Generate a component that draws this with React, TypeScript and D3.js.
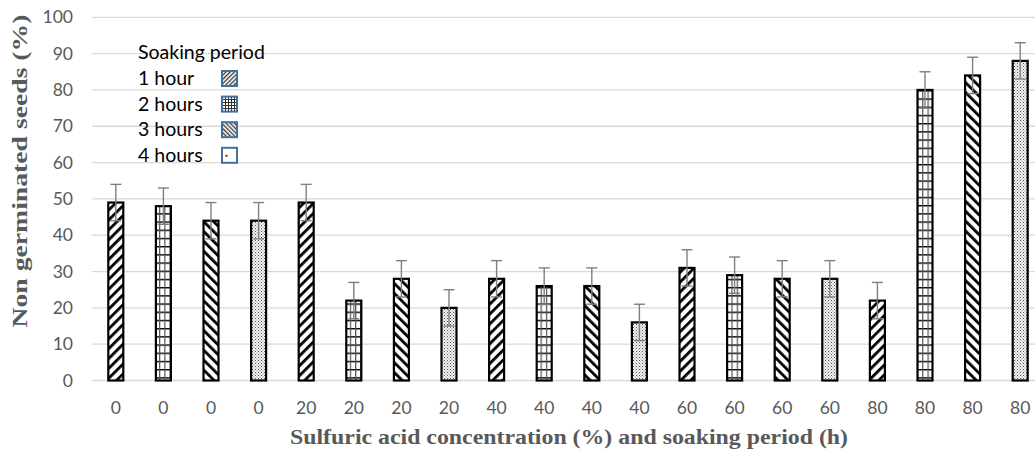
import * as d3 from "d3";

const concentrations = [0, 0, 0, 0, 20, 20, 20, 20, 40, 40, 40, 40, 60, 60, 60, 60, 80, 80, 80, 80];
const periods = [1, 2, 3, 4, 1, 2, 3, 4, 1, 2, 3, 4, 1, 2, 3, 4, 1, 2, 3, 4];
const nonGerminated = [49, 48, 44, 44, 49, 22, 28, 20, 28, 26, 26, 16, 31, 29, 28, 28, 22, 80, 84, 88];
const errors = [5, 5, 5, 5, 5, 5, 5, 5, 5, 5, 5, 5, 5, 5, 5, 5, 5, 5, 5, 5];
const legendLabels = ["1 hour", "2 hours", "3 hours", "4 hours"];
const yTicks = [0, 10, 20, 30, 40, 50, 60, 70, 80, 90, 100];

const width = 1035;
const height = 453;
const gray = "#595959";

export default function App() {
  const x = d3
    .scaleBand<number>()
    .domain(d3.range(nonGerminated.length))
    .range([92, 1044]);
  const y = d3.scaleLinear().domain([0, 100]).range([380.5, 17.3]);
  const barW = 15;

  return (
    <svg
      width={width}
      height={height}
      style={{ position: "absolute", left: 0, top: 0, background: "#fff" }}
    >
      <defs>
        {/* bar patterns */}
        <pattern id="p1" width="7" height="7" patternUnits="userSpaceOnUse" patternTransform="rotate(45)">
          <rect width="7" height="7" fill="#fff" />
          <rect width="2.8" height="7" fill="#000" />
        </pattern>
        <pattern id="p2" width="5.3" height="8.2" patternUnits="userSpaceOnUse">
          <rect width="5.3" height="8.2" fill="#fff" />
          <line x1="0" x2="5.3" y1="0.7" y2="0.7" stroke="#000" strokeWidth="1.4" />
          <line x1="0.6" x2="0.6" y1="0" y2="8.2" stroke="#555" strokeWidth="1.2" />
        </pattern>
        <pattern id="p3" width="7" height="7" patternUnits="userSpaceOnUse" patternTransform="rotate(-45)">
          <rect width="7" height="7" fill="#fff" />
          <rect width="2.8" height="7" fill="#000" />
        </pattern>
        <pattern id="p4" width="3" height="3" patternUnits="userSpaceOnUse">
          <rect width="3" height="3" fill="#f2f2f2" />
          <rect x="0" y="0" width="1" height="1" fill="#555" />
          <rect x="1.5" y="1.5" width="1" height="1" fill="#888" />
        </pattern>
        {/* legend swatch patterns */}
        <pattern id="l1" width="3" height="3" patternUnits="userSpaceOnUse" patternTransform="rotate(45)">
          <rect width="3" height="3" fill="#fff" />
          <rect width="1.3" height="3" fill="#333" />
        </pattern>
        <pattern id="l2" width="3" height="3" patternUnits="userSpaceOnUse">
          <rect width="3" height="3" fill="#fff" />
          <rect width="3" height="1" fill="#333" />
          <rect width="1" height="3" fill="#333" />
        </pattern>
        <pattern id="l3" width="3" height="3" patternUnits="userSpaceOnUse" patternTransform="rotate(-45)">
          <rect width="3" height="3" fill="#fff" />
          <rect width="1.3" height="3" fill="#333" />
        </pattern>
      </defs>

      {/* gridlines */}
      {yTicks.map((t) => (
        <line key={t} x1={92} x2={width} y1={y(t)} y2={y(t)} stroke="#d9d9d9" strokeWidth={1.3} />
      ))}

      {/* y tick labels */}
      {yTicks.map((t) => (
        <text
          key={"yl" + t}
          x={73}
          y={y(t) + 6}
          textAnchor="end"
          fontFamily="Lato, 'Noto Sans', sans-serif"
          fontSize={17.5}
          fill={gray}
        >
          {t}
        </text>
      ))}

      {/* bars */}
      {nonGerminated.map((v, i) => {
        const cx = x(i)! + x.bandwidth() / 2;
        return (
          <rect
            key={"b" + i}
            x={cx - barW / 2}
            y={y(v)}
            width={barW}
            height={y(0) - y(v)}
            fill={`url(#p${periods[i]})`}
            stroke="#000"
            strokeWidth={2.2}
          />
        );
      })}

      {/* error bars */}
      {nonGerminated.map((v, i) => {
        const cx = x(i)! + x.bandwidth() / 2;
        const top = y(v + errors[i]);
        const bot = y(v - errors[i]);
        return (
          <g key={"e" + i} stroke="#7f7f7f" strokeWidth={1.4}>
            <line x1={cx} x2={cx} y1={top} y2={bot} />
            <line x1={cx - 5.5} x2={cx + 5.5} y1={top} y2={top} />
            <line x1={cx - 5.5} x2={cx + 5.5} y1={bot} y2={bot} />
          </g>
        );
      })}

      {/* x tick labels */}
      {concentrations.map((c, i) => (
        <text
          key={"xl" + i}
          x={x(i)! + x.bandwidth() / 2}
          y={414}
          textAnchor="middle"
          fontFamily="Lato, 'Noto Sans', sans-serif"
          fontSize={17.5}
          fill={gray}
        >
          {c}
        </text>
      ))}

      {/* legend */}
      <g fontFamily="Lato, 'Noto Sans', sans-serif" fontSize={19.5} fill="#000">
        <text x={138} y={59}>Soaking period</text>
        {legendLabels.map((l, k) => (
          <g key={l}>
            <text x={138} y={85 + k * 25.6}>{l}</text>
            <rect
              x={222}
              y={71 + k * 25.6}
              width={15}
              height={15}
              fill={k < 3 ? `url(#l${k + 1})` : "#fff"}
              stroke="#41719c"
              strokeWidth={2}
            />
            {k === 3 && <rect x={225.5} y={78 + k * 25.6} width={2} height={2} fill="#333" />}
          </g>
        ))}
      </g>

      {/* axis titles */}
      <text
        transform="translate(27,171) rotate(-90)"
        textAnchor="middle"
        fontFamily="'Liberation Serif', 'Times New Roman', serif"
        fontWeight="bold"
        fontSize={21}
        fill={gray}
        textLength={313}
        lengthAdjust="spacingAndGlyphs"
      >
        Non germinated seeds (%)
      </text>
      <text
        x={569}
        y={444}
        textAnchor="middle"
        fontFamily="'Liberation Serif', 'Times New Roman', serif"
        fontWeight="bold"
        fontSize={20}
        fill={gray}
        textLength={558}
        lengthAdjust="spacingAndGlyphs"
      >
        Sulfuric  acid concentration (%) and soaking period (h)
      </text>
    </svg>
  );
}
